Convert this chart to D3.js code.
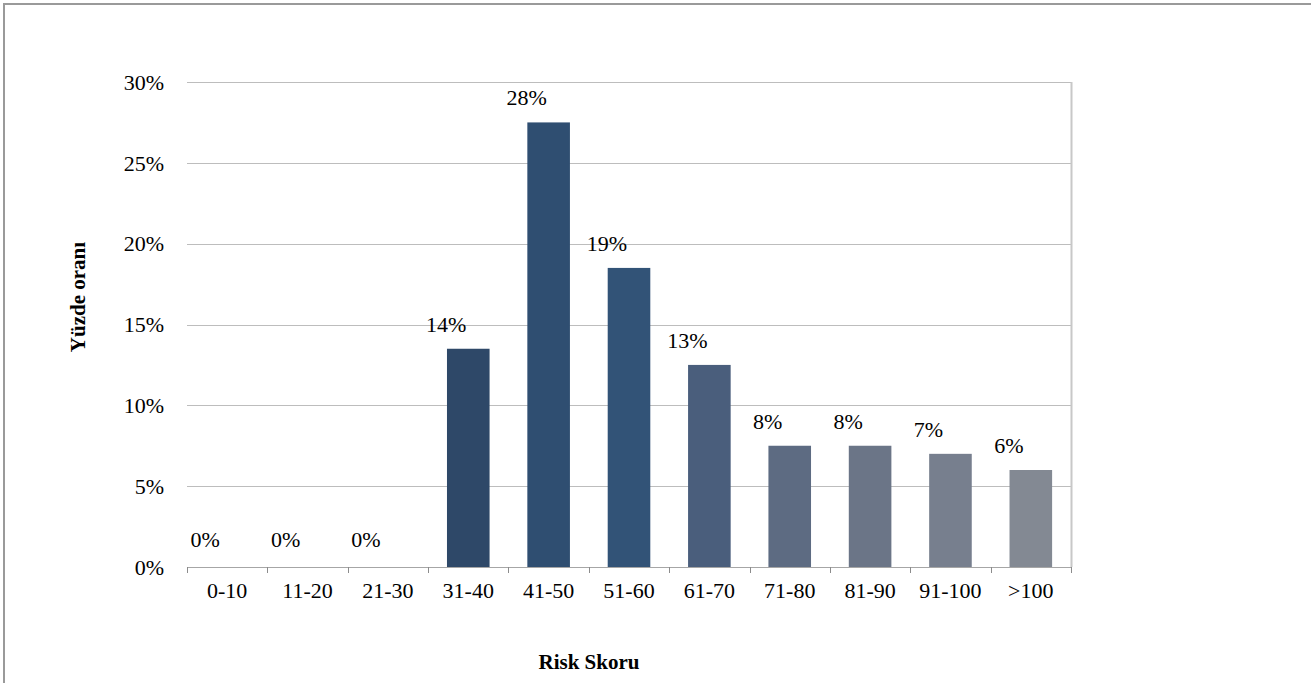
<!DOCTYPE html>
<html>
<head>
<meta charset="utf-8">
<script src="https://cdn.jsdelivr.net/npm/d3@7"></script>
<style>
  body { margin: 0; background: #fff; }
  svg text { font-family: "Liberation Serif", "DejaVu Serif", serif; fill: #000; }
</style>
</head>
<body>
<div id="chart"></div>
<script>
// kategoriler ve değerler (yüzde)
const categories = ["0-10", "11-20", "21-30", "31-40", "41-50", "51-60", "61-70", "71-80", "81-90", "91-100", ">100"];
const values = [0, 0, 0, 13.5, 27.5, 18.5, 12.5, 7.5, 7.5, 7.0, 6.0];
const barColors = ["#2e4868", "#2e4868", "#2e4868", "#2e4868", "#2f4e71", "#325377", "#4a5e7c", "#5d6b82", "#6b7587", "#777f8e", "#838993"];
const yTicks = [0, 5, 10, 15, 20, 25, 30];

const width = 1311;
const height = 683;
const margin = { left: 187, right: 1311 - 1071, top: 82, bottom: 683 - 567 };
const serif = '"Liberation Serif", "Times New Roman", serif';

const svg = d3.select("#chart").append("svg")
  .attr("width", width)
  .attr("height", height)
  .attr("font-family", serif);

// dış çerçeve
svg.append("rect")
  .attr("x", 4).attr("y", 4)
  .attr("width", width + 10).attr("height", height + 10)
  .attr("fill", "none")
  .attr("stroke", "#9a9a9a")
  .attr("stroke-width", 2);

const x = d3.scaleBand()
  .domain(categories)
  .range([margin.left, width - margin.right])
  .paddingInner(0.47)
  .paddingOuter(0.235);

const xTicks = d3.scaleBand().domain(categories).range([margin.left, width - margin.right]);

const y = d3.scaleLinear()
  .domain([0, 30])
  .range([height - margin.bottom, margin.top]);

// yatay ızgara çizgileri
svg.append("g")
  .selectAll("line")
  .data(yTicks.filter(d => d > 0))
  .enter()
  .append("line")
  .attr("x1", margin.left)
  .attr("x2", width - margin.right)
  .attr("y1", d => Math.round(y(d)) + 0.5)
  .attr("y2", d => Math.round(y(d)) + 0.5)
  .style("stroke", "#bdbdbd")
  .style("stroke-width", 1);

// sağ kenar
svg.append("line")
  .attr("x1", width - margin.right + 0.5)
  .attr("x2", width - margin.right + 0.5)
  .attr("y1", y(30))
  .attr("y2", y(0))
  .style("stroke", "#c8c8c8")
  .style("stroke-width", 2);

// y ekseni etiketleri
svg.append("g")
  .selectAll("text")
  .data(yTicks)
  .enter()
  .append("text")
  .attr("x", 164)
  .attr("y", d => y(d))
  .attr("dy", "0.35em")
  .attr("text-anchor", "end")
  .style("font-family", serif)
  .style("font-size", "22px")
  .text(d => d + "%");

// çubuklar
svg.append("g")
  .selectAll("rect")
  .data(values)
  .enter()
  .append("rect")
  .attr("x", (d, i) => x(categories[i]))
  .attr("y", d => y(d))
  .attr("width", x.bandwidth())
  .attr("height", d => y(0) - y(d))
  .style("fill", (d, i) => barColors[i]);

// değer etiketleri
svg.append("g")
  .selectAll("text")
  .data(values)
  .enter()
  .append("text")
  .attr("x", (d, i) => x(categories[i]) + x.bandwidth() / 2 - 22)
  .attr("y", d => y(d) - (d === 0 ? 20 : 17))
  .attr("text-anchor", "middle")
  .style("font-family", serif)
  .style("font-size", "22px")
  .text(d => Math.round(d) + "%");

// x ekseni
svg.append("line")
  .attr("x1", margin.left)
  .attr("x2", width - margin.right)
  .attr("y1", y(0) + 0.5)
  .attr("y2", y(0) + 0.5)
  .style("stroke", "#a6a6a6")
  .style("stroke-width", 1);

svg.append("g")
  .selectAll("line")
  .data(categories.concat(["end"]))
  .enter()
  .append("line")
  .attr("x1", (d, i) => Math.round(margin.left + i * xTicks.step()) + 0.5)
  .attr("x2", (d, i) => Math.round(margin.left + i * xTicks.step()) + 0.5)
  .attr("y1", y(0))
  .attr("y2", y(0) + 6)
  .style("stroke", "#8c8c8c")
  .style("stroke-width", 1);

svg.append("g")
  .selectAll("text")
  .data(categories)
  .enter()
  .append("text")
  .attr("x", d => xTicks(d) + xTicks.bandwidth() / 2)
  .attr("y", 598)
  .attr("text-anchor", "middle")
  .style("font-family", serif)
  .style("font-size", "22px")
  .text(d => d);

// eksen başlıkları
svg.append("text")
  .attr("x", 589)
  .attr("y", 669)
  .attr("text-anchor", "middle")
  .style("font-family", serif)
  .style("font-size", "21px")
  .style("font-weight", "bold")
  .text("Risk Skoru");

svg.append("text")
  .attr("transform", "translate(85, 297) rotate(-90)")
  .attr("text-anchor", "middle")
  .style("font-family", serif)
  .style("font-size", "21px")
  .style("font-weight", "bold")
  .text("Yüzde oranı");
</script>
</body>
</html>
